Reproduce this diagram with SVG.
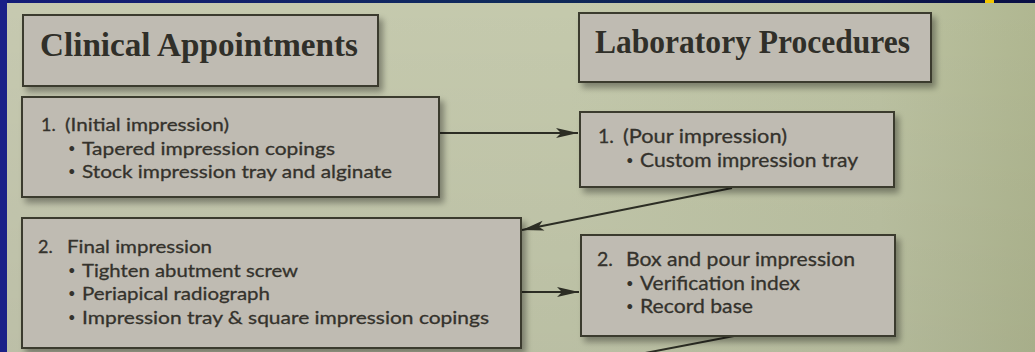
<svg xmlns="http://www.w3.org/2000/svg" width="1035" height="352" viewBox="0 0 1035 352">
<defs>
<linearGradient id="paper" x1="0" y1="0" x2="1" y2="0">
<stop offset="0" stop-color="#c6c9b0"/>
<stop offset="0.55" stop-color="#c4c9ac"/>
<stop offset="0.85" stop-color="#bcc2a2"/>
<stop offset="1" stop-color="#b0b791"/>
</linearGradient>
<linearGradient id="shade" x1="0" y1="0" x2="0" y2="1">
<stop offset="0" stop-color="#000" stop-opacity="0"/>
<stop offset="1" stop-color="#000" stop-opacity="0.05"/>
</linearGradient>
<linearGradient id="topbar" x1="0" y1="0" x2="1" y2="0">
<stop offset="0" stop-color="#141c78"/>
<stop offset="0.5" stop-color="#0f2a5a"/>
<stop offset="1" stop-color="#0a0f45"/>
</linearGradient>
<filter id="sh" x="-10%" y="-20%" width="125%" height="150%">
<feGaussianBlur in="SourceAlpha" stdDeviation="3"/>
<feOffset dx="4" dy="5" result="b"/>
<feComponentTransfer><feFuncA type="linear" slope="0.35"/></feComponentTransfer>
<feMerge><feMergeNode/><feMergeNode in="SourceGraphic"/></feMerge>
</filter>
<marker id="ah" markerUnits="userSpaceOnUse" markerWidth="24" markerHeight="12" refX="22" refY="5" orient="auto">
<path d="M0,0 L22,5 L0,10 L5,5 z" fill="#2c2d24"/>
</marker>
</defs>
<style>
.box{fill:#bfbbb2;stroke:#3a3a2e;stroke-width:2}
.hd{font-family:"Liberation Serif","Times New Roman",serif;font-weight:bold;font-size:33px;fill:#302f29}
.t{font-family:Lato,"Noto Sans",sans-serif;font-size:18px;fill:#34322c;stroke:#34322c;stroke-width:0.3}
.tl{font-family:Lato,"Noto Sans",sans-serif;font-size:19.5px;fill:#34322c;stroke:#34322c;stroke-width:0.3}
.b{font-family:Lato,"Noto Sans",sans-serif;font-size:13px;fill:#34322c}
.cn{fill:none;stroke:#2c2d24;stroke-width:2}
</style>
<rect x="0" y="0" width="1035" height="352" fill="url(#paper)"/>
<rect x="0" y="0" width="1035" height="352" fill="url(#shade)"/>
<rect x="0" y="0" width="1035" height="3" fill="url(#topbar)"/>
<rect x="0" y="0" width="7" height="352" fill="#1a2088"/>
<rect x="985" y="0" width="9" height="3" fill="#f2c500"/>

<g id="connectors">
<line class="cn" x1="440" y1="133" x2="578" y2="133" marker-end="url(#ah)"/>
<line class="cn" x1="732" y1="188" x2="522" y2="230" marker-end="url(#ah)"/>
<line class="cn" x1="521" y1="292" x2="579" y2="292" marker-end="url(#ah)"/>
<line class="cn" x1="734" y1="336" x2="640" y2="354"/>
</g>

<g id="header-clinical">
<rect class="box" x="23" y="15" width="355" height="71" filter="url(#sh)"/>
<text class="hd" x="40" y="56" textLength="318" lengthAdjust="spacingAndGlyphs">Clinical Appointments</text>
</g>

<g id="header-lab">
<rect class="box" x="579" y="13" width="352" height="69" filter="url(#sh)"/>
<text class="hd" x="595" y="53" textLength="315" lengthAdjust="spacingAndGlyphs">Laboratory Procedures</text>
</g>

<g id="clinical-1">
<rect class="box" x="22" y="97" width="417" height="100" filter="url(#sh)"/>
<text class="t" x="41" y="131">1.</text>
<text class="t" x="65" y="131" textLength="164" lengthAdjust="spacingAndGlyphs">(Initial impression)</text>
<text class="b" x="68" y="153">•</text>
<text class="t" x="82" y="155" textLength="253" lengthAdjust="spacingAndGlyphs">Tapered impression copings</text>
<text class="b" x="68" y="176">•</text>
<text class="t" x="82" y="178" textLength="310" lengthAdjust="spacingAndGlyphs">Stock impression tray and alginate</text>
</g>

<g id="lab-1">
<rect class="box" x="580" y="112" width="314" height="75" filter="url(#sh)"/>
<text class="tl" x="598" y="143">1.</text>
<text class="tl" x="623" y="143" textLength="164" lengthAdjust="spacingAndGlyphs">(Pour impression)</text>
<text class="b" x="626" y="165">•</text>
<text class="tl" x="640" y="167" textLength="218" lengthAdjust="spacingAndGlyphs">Custom impression tray</text>
</g>

<g id="clinical-2">
<rect class="box" x="22" y="218" width="499" height="130" filter="url(#sh)"/>
<text class="t" x="38" y="253">2.</text>
<text class="t" x="67" y="253" textLength="145" lengthAdjust="spacingAndGlyphs">Final impression</text>
<text class="b" x="68" y="275">•</text>
<text class="t" x="82" y="277" textLength="216" lengthAdjust="spacingAndGlyphs">Tighten abutment screw</text>
<text class="b" x="68" y="298">•</text>
<text class="t" x="82" y="300" textLength="188" lengthAdjust="spacingAndGlyphs">Periapical radiograph</text>
<text class="b" x="68" y="322">•</text>
<text class="t" x="82" y="324" textLength="407" lengthAdjust="spacingAndGlyphs">Impression tray &amp; square impression copings</text>
</g>

<g id="lab-2">
<rect class="box" x="581" y="235" width="314" height="101" filter="url(#sh)"/>
<text class="tl" x="597" y="266">2.</text>
<text class="tl" x="626" y="266" textLength="229" lengthAdjust="spacingAndGlyphs">Box and pour impression</text>
<text class="b" x="626" y="288">•</text>
<text class="tl" x="640" y="290" textLength="160" lengthAdjust="spacingAndGlyphs">Verification index</text>
<text class="b" x="626" y="311">•</text>
<text class="tl" x="640" y="313" textLength="113" lengthAdjust="spacingAndGlyphs">Record base</text>
</g>
</svg>
